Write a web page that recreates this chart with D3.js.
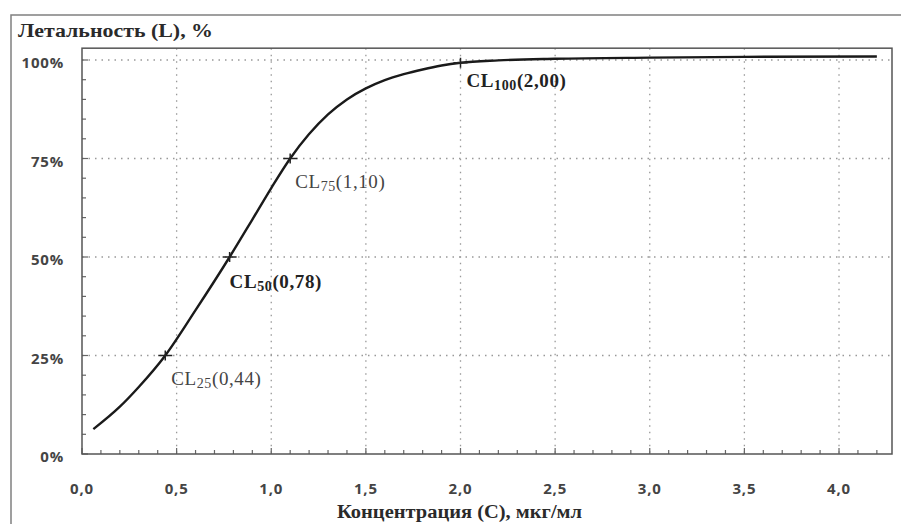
<!DOCTYPE html>
<html>
<head>
<meta charset="utf-8">
<script src="https://cdn.jsdelivr.net/npm/d3@7"></script>
<style>
  body { margin: 0; background: #fff; }
  svg { display: block; }
  .tick-label { font-family: "Open Sans", "DejaVu Sans", sans-serif; font-weight: bold; font-size: 15px; letter-spacing: 0.8px; fill: #444; }
  .title { font-family: "Liberation Serif", "DejaVu Serif", serif; font-weight: bold; font-size: 18px; fill: #2a2a2a; }
  .cl { font-family: "Liberation Serif", "DejaVu Serif", serif; font-size: 19px; letter-spacing: 0.6px; }
</style>
</head>
<body>
<div id="chart"></div>
<script>
// concentration (мкг/мл) and lethality (%)
const conc      = [0.06, 0.2, 0.3, 0.44, 0.6, 0.78, 0.9, 1.0, 1.1, 1.2, 1.3, 1.4, 1.5, 1.6, 1.7, 1.8, 1.9, 2.0, 2.2, 2.5, 3.0, 3.5, 4.2];
const lethality = [6.3, 12, 17, 25, 36.5, 50, 59.5, 67.5, 75, 81.2, 86.2, 90, 92.8, 94.9, 96.4, 97.6, 98.6, 99.3, 99.9, 100.3, 100.6, 100.8, 100.9];

// marked points CL25..CL100
const clLevels = ["25", "50", "75", "100"];
const clConc   = [0.44, 0.78, 1.10, 2.00];
const clValue  = [25, 50, 75, 99.3];
const clText   = ["(0,44)", "(0,78)", "(1,10)", "(2,00)"];
const clBold   = [false, true, false, true];

const xTicks = [0, 0.5, 1.0, 1.5, 2.0, 2.5, 3.0, 3.5, 4.0];
const yTicks = [0, 25, 50, 75, 100];

const svgWidth = 901;
const svgHeight = 524;

const svg = d3.select("#chart")
  .append("svg")
  .attr("width", svgWidth)
  .attr("height", svgHeight);

const x = d3.scaleLinear().domain([0, 4.28]).range([82, 892]);
const y = d3.scaleLinear().domain([0, 100]).range([454, 60]);

const plotTop = y(103);
const plotBottom = y(0);
const plotLeft = x(0);
const plotRight = x(4.28);

// outer frame
svg.append("rect")
  .attr("x", 11).attr("y", 15)
  .attr("width", 900).attr("height", 520)
  .attr("fill", "none")
  .attr("stroke", "#808080")
  .attr("stroke-width", 1.5);

// dotted grid
svg.append("g")
  .selectAll("line")
  .data(xTicks.slice(1))
  .join("line")
  .attr("x1", d => x(d)).attr("x2", d => x(d))
  .attr("y1", plotTop).attr("y2", plotBottom)
  .attr("stroke", "#999")
  .attr("stroke-width", 1.3)
  .attr("stroke-dasharray", "1.5,5");

svg.append("g")
  .selectAll("line")
  .data(yTicks.slice(1))
  .join("line")
  .attr("x1", plotLeft).attr("x2", plotRight)
  .attr("y1", d => y(d)).attr("y2", d => y(d))
  .attr("stroke", "#999")
  .attr("stroke-width", 1.3)
  .attr("stroke-dasharray", "1.5,5");

// minor ticks, pointing inside the plot
const xMinor = d3.range(0, 43).map(i => i / 10);
svg.append("g")
  .selectAll("line")
  .data(xMinor)
  .join("line")
  .attr("x1", d => x(d)).attr("x2", d => x(d))
  .attr("y1", plotBottom).attr("y2", d => plotBottom - (Math.abs(d * 2 - Math.round(d * 2)) < 1e-6 ? 6 : 4))
  .attr("stroke", "#666")
  .attr("stroke-width", 1.2);

const yMinor = d3.range(0, 21).map(i => i * 5);
svg.append("g")
  .selectAll("line")
  .data(yMinor)
  .join("line")
  .attr("x1", plotLeft).attr("x2", d => plotLeft + (d % 25 === 0 ? 6 : 4))
  .attr("y1", d => y(d)).attr("y2", d => y(d))
  .attr("stroke", "#666")
  .attr("stroke-width", 1.2);

// plot frame
svg.append("rect")
  .attr("x", plotLeft).attr("y", plotTop)
  .attr("width", plotRight - plotLeft).attr("height", plotBottom - plotTop)
  .attr("fill", "none")
  .attr("stroke", "#555")
  .attr("stroke-width", 1.5);

// tick labels
const fmt = d3.format(".1f");
svg.append("g")
  .selectAll("text")
  .data(xTicks)
  .join("text")
  .attr("class", "tick-label")
  .attr("x", d => x(d))
  .attr("y", 494)
  .attr("text-anchor", "middle")
  .text(d => fmt(d).replace(".", ","));

svg.append("g")
  .selectAll("text")
  .data(yTicks)
  .join("text")
  .attr("class", "tick-label")
  .attr("x", 64)
  .attr("y", d => y(d) + 8)
  .attr("text-anchor", "end")
  .text(d => d + "%");

// axis titles
svg.append("text")
  .attr("class", "title")
  .attr("x", 18).attr("y", 37)
  .attr("textLength", 195)
  .attr("lengthAdjust", "spacingAndGlyphs")
  .text("Летальность (L), %");

svg.append("text")
  .attr("class", "title")
  .attr("x", 337).attr("y", 518)
  .attr("textLength", 245)
  .attr("lengthAdjust", "spacingAndGlyphs")
  .text("Концентрация (С), мкг/мл");

// curve
const points = conc.map((c, i) => [c, lethality[i]]);
svg.append("path")
  .datum(points)
  .attr("fill", "none")
  .attr("stroke", "#1a1a1a")
  .attr("stroke-width", 2.4)
  .attr("d", d3.line()
    .x(d => x(d[0]))
    .y(d => y(d[1]))
    .curve(d3.curveMonotoneX));

// CL markers
const marks = clLevels.map((lv, i) => ({ lv, c: clConc[i], v: clValue[i], t: clText[i], bold: clBold[i] }));
const labelOffset = { "25": [6, 29], "50": [0, 31], "75": [5, 29], "100": [6, 24] };

const markG = svg.append("g").selectAll("g")
  .data(marks)
  .join("g")
  .attr("transform", d => `translate(${x(d.c)},${y(d.v)})`);

markG.append("line")
  .attr("x1", -7).attr("x2", 7).attr("y1", 0).attr("y2", 0)
  .attr("stroke", "#222").attr("stroke-width", 1.5);
markG.append("line")
  .attr("x1", 0).attr("x2", 0).attr("y1", -5).attr("y2", 5)
  .attr("stroke", "#222").attr("stroke-width", 1.5);

const label = markG.append("text")
  .attr("class", "cl")
  .attr("x", d => labelOffset[d.lv][0])
  .attr("y", d => labelOffset[d.lv][1])
  .attr("font-weight", d => d.bold ? "bold" : "normal")
  .attr("fill", d => d.bold ? "#222" : "#444");

label.append("tspan").text("CL");
label.append("tspan")
  .attr("font-size", 14)
  .attr("dy", 3)
  .text(d => d.lv);
label.append("tspan")
  .attr("dy", -3)
  .text(d => d.t);
</script>
</body>
</html>
